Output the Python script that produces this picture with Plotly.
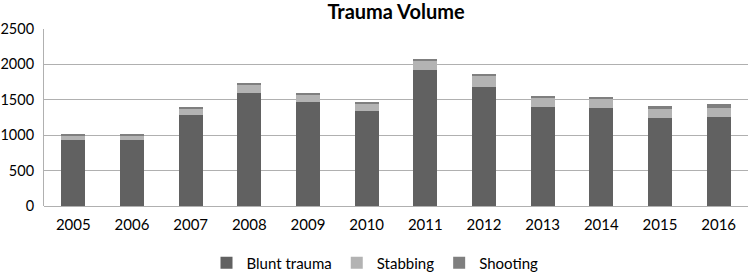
import plotly.graph_objects as go

years = ["2005", "2006", "2007", "2008", "2009", "2010", "2011", "2012", "2013", "2014", "2015", "2016"]
blunt = [930, 930, 1289, 1596, 1473, 1345, 1926, 1676, 1393, 1383, 1237, 1256]
stabbing = [70, 70, 94, 117, 108, 104, 127, 169, 136, 132, 132, 132]
shooting = [5, 5, 12, 12, 12, 15, 12, 15, 20, 24, 47, 52]

font = "Lato, Carlito, 'Open Sans', sans-serif"

fig = go.Figure()
fig.add_bar(x=years, y=blunt, name="Blunt trauma", marker_color="#616161", marker_line_width=0)
fig.add_bar(x=years, y=stabbing, name="Stabbing", marker_color="#b3b3b3", marker_line_width=0)
fig.add_bar(x=years, y=shooting, name="Shooting", marker_color="#7f7f7f", marker_line_width=0)

fig.update_layout(
    barmode="stack",
    bargap=0.59,
    width=750, height=277,
    margin=dict(l=44, r=2, t=29, b=71, autoexpand=False),
    paper_bgcolor="white", plot_bgcolor="white",
    font=dict(family=font, size=15, color="#000000"),
    title=dict(text="<b>Trauma Volume</b>", xref="paper", x=0.5, xanchor="center", y=1 - 12 / 277, yanchor="middle",
               font=dict(family=font, size=20, color="#000000")),
    legend=dict(orientation="h", xref="container", x=0.5, xanchor="center", y=(206 - 263) / 177, yanchor="middle",
                font=dict(family=font, size=15), itemwidth=30, traceorder="normal"),
    showlegend=True,
)
fig.update_xaxes(showgrid=False, showline=False, ticks="", tickfont=dict(size=15),
                 automargin=False, ticklabelstandoff=8)
fig.update_yaxes(range=[0, 2500], dtick=500, showgrid=True, gridcolor="#b0b0b0", gridwidth=1,
                 showline=True, linecolor="#b0b0b0", linewidth=1, ticks="", zeroline=True,
                 zerolinecolor="#b0b0b0", zerolinewidth=1, tickfont=dict(size=14.5),
                 automargin=False, ticklabelstandoff=6)

fig.write_html("out.html", config={"displayModeBar": False},
               post_script="document.body.style.margin='0';document.body.style.padding='0';")
